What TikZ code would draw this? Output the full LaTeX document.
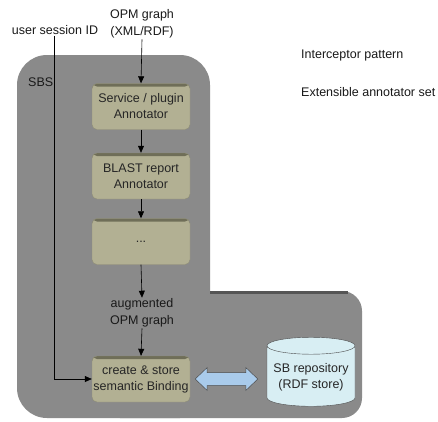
\documentclass[tikz,border=0pt]{standalone}
\usepackage{fontspec}
\setmainfont{Liberation Sans}
\usetikzlibrary{shapes.geometric,arrows.meta,calc}
\definecolor{sbsgray}{HTML}{8A8A8A}
\definecolor{sbsdark}{HTML}{555555}
\definecolor{boxc}{HTML}{B2B093}
\definecolor{boxdark}{HTML}{6F6E58}
\definecolor{cylc}{HTML}{D8EEF3}
\definecolor{arrc}{HTML}{A9CBEB}
\begin{document}
\begin{tikzpicture}[x=1pt,y=-1pt,
  lbl/.style={font=\fontsize{12.5}{16.5}\selectfont, align=center, inner sep=1pt, text=black!90},
  annot/.style={rounded corners=5pt, fill=boxc, draw=boxc!80!black, line width=0.4pt,
    minimum width=98pt, minimum height=46pt, align=center, text=black!85, inner sep=1pt,
    font=\fontsize{12.5}{16}\selectfont,
    path picture={\fill[boxdark] (path picture bounding box.north west) rectangle ([yshift=-3pt]path picture bounding box.north east);}},
  conn/.style={-{Triangle[length=7pt,width=6pt]}, line width=0.6pt, black}
]
\useasboundingbox (0,0) rectangle (438,421);
% SBS container
\fill[sbsgray, rounded corners=30pt] (17,55) rectangle (210,418);
\fill[sbsgray, rounded corners=20pt] (100,291) rectangle (362,418);
\draw[sbsdark, line width=3pt] (210,292.5) -- (348,292.5);
\node[lbl, anchor=west] (sbs) at (27,82) {SBS};
% texts
\node[lbl] (usid) at (55,30) {user session ID};
\node[lbl] (opm) at (142,24) {OPM graph\\(XML/RDF)};
\node[lbl, anchor=west] (ip) at (300,55) {Interceptor pattern};
\node[lbl, anchor=west] (ext) at (300,92) {Extensible annotator set};
% boxes
\node[annot] (svc) at (141,106.5) {Service / plugin\\Annotator};
\node[annot] (blast) at (141,176) {BLAST report\\Annotator};
\node[annot] (dots) at (141,241.5) {...};
\node[lbl] (aug) at (142,313) {augmented\\OPM graph};
\node[annot] (create) at (141,379) {create \& store\\semantic Binding};
\node[cylinder, shape border rotate=90, aspect=0.22, draw=black!70, fill=cylc,
  minimum width=88pt, minimum height=69pt, align=center, inner sep=1pt,
  font=\fontsize{12.5}{16}\selectfont, text=black!85] (repo) at (311,377) {SB repository\\(RDF store)};
% double arrow between create and repo
\coordinate (L) at ([xshift=5pt]create.east);
\coordinate (R) at ([xshift=-9pt]repo.west |- create.east);
\draw[draw=black!70, fill=arrc, line width=0.5pt, line join=miter]
  (L) -- ++(12,-11.5) -- ++(0,5) -- ($(R)+(-12,-6.5)$) -- ++(0,-5) -- (R)
  -- ++(-12,11.5) -- ++(0,-5) -- ($(L)+(12,6.5)$) -- ++(0,5) -- cycle;
% connectors
\draw[conn] (opm.south) -- (svc.north);
\draw[conn] (svc.south) -- (blast.north);
\draw[conn] (blast.south) -- (dots.north);
\draw[conn] (dots.south) -- (aug.north);
\draw[conn] (aug.south) -- (create.north);
\draw[conn] (usid.south -| 54,0) -- (54,379) -- (create.west);
\end{tikzpicture}
\end{document}
